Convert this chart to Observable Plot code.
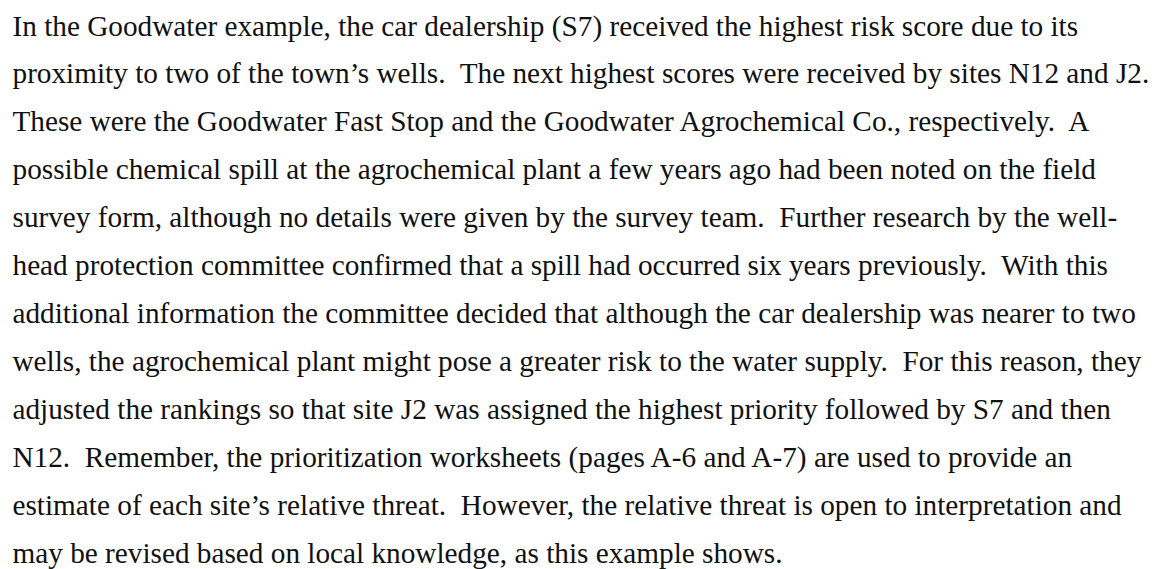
<!DOCTYPE html>
<html>
<head>
<meta charset="utf-8">
<script src="https://cdn.jsdelivr.net/npm/d3@7"></script>
<script src="https://cdn.jsdelivr.net/npm/@observablehq/plot@0.6"></script>
<style>
  html, body { margin: 0; padding: 0; background: #fff; }
  svg text { white-space: pre; }
</style>
</head>
<body>
<div id="chart"></div>
<script>
const lineIndex = [0, 1, 2, 3, 4, 5, 6, 7, 8, 9, 10, 11];
const lineTexts = [
  "In the Goodwater example, the car dealership (S7) received the highest risk score due to its",
  "proximity to two of the town\u2019s wells.  The next highest scores were received by sites N12 and J2.",
  "These were the Goodwater Fast Stop and the Goodwater Agrochemical Co., respectively.  A",
  "possible chemical spill at the agrochemical plant a few years ago had been noted on the field",
  "survey form, although no details were given by the survey team.  Further research by the well-",
  "head protection committee confirmed that a spill had occurred six years previously.  With this",
  "additional information the committee decided that although the car dealership was nearer to two",
  "wells, the agrochemical plant might pose a greater risk to the water supply.  For this reason, they",
  "adjusted the rankings so that site J2 was assigned the highest priority followed by S7 and then",
  "N12.  Remember, the prioritization worksheets (pages A-6 and A-7) are used to provide an",
  "estimate of each site\u2019s relative threat.  However, the relative threat is open to interpretation and",
  "may be revised based on local knowledge, as this example shows."
];

const rows = lineIndex.map((i) => ({ line: i, text: lineTexts[i] }));

const chart = Plot.plot({
  width: 1160,
  height: 569,
  margin: 0,
  style: { background: "#fff" },
  x: { domain: [0, 1], range: [12, 1160], axis: null },
  y: { domain: [0, 11], range: [35, 562], axis: null },
  marks: [
    Plot.text(rows, {
      x: () => 0,
      y: "line",
      text: "text",
      textAnchor: "start",
      lineAnchor: "bottom",
      fontFamily: "'Liberation Serif', 'Times New Roman', serif",
      fontSize: 29.25,
      fill: "#111"
    })
  ]
});
document.getElementById("chart").appendChild(chart);
</script>
</body>
</html>
